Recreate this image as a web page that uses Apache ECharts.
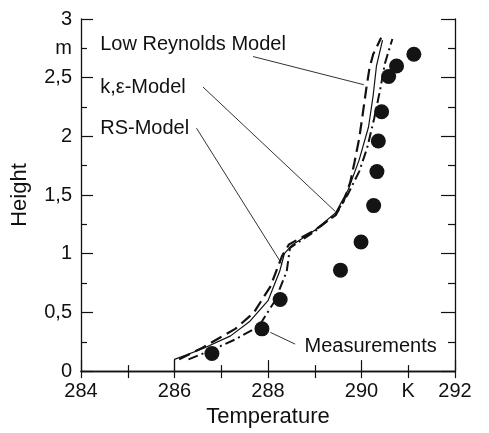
<!DOCTYPE html>
<html>
<head>
<meta charset="utf-8">
<script src="https://cdn.jsdelivr.net/npm/echarts@6/dist/echarts.min.js"></script>
<style>
  html, body { margin: 0; padding: 0; background: #fff; }
  #chart { width: 489px; height: 433px; }
</style>
</head>
<body>
<div id="chart"></div>
<script>
// measured points (temperature K, height m)
const measurements = [
  [286.8, 0.15], [287.87, 0.36], [288.26, 0.61], [289.55, 0.86],
  [289.99, 1.10], [290.26, 1.41], [290.33, 1.70], [290.36, 1.96],
  [290.43, 2.21], [290.58, 2.51], [290.75, 2.60], [291.12, 2.70]
];

const lowReynolds = [
  [286.1, 0.1], [286.6, 0.2], [287.3, 0.36], [287.7, 0.5], [288.05, 0.72],
  [288.3, 0.98], [288.45, 1.08], [289.0, 1.2], [289.45, 1.33], [289.62, 1.45],
  [289.76, 1.61], [289.85, 1.78], [289.95, 1.98], [290.03, 2.2], [290.1, 2.4],
  [290.17, 2.58], [290.25, 2.7], [290.42, 2.84]
];

const kEpsilon = [
  [286.3, 0.1], [286.8, 0.18], [287.3, 0.27], [287.8, 0.38], [288.15, 0.6],
  [288.4, 0.85], [288.47, 1.05], [289.0, 1.19], [289.45, 1.34], [289.7, 1.5],
  [289.95, 1.7], [290.12, 1.9], [290.27, 2.15], [290.4, 2.4], [290.5, 2.62],
  [290.66, 2.83]
];

const rsModel = [
  [286.0, 0.0], [286.0, 0.1], [286.6, 0.19], [287.2, 0.3], [287.6, 0.42],
  [288.0, 0.6], [288.25, 0.85], [288.35, 1.0], [288.5, 1.07], [289.0, 1.2],
  [289.45, 1.35], [289.72, 1.55], [289.95, 1.8], [290.15, 2.08], [290.25, 2.35],
  [290.32, 2.6], [290.45, 2.82]
];

// annotation texts and their leader lines
const labelText = ['Low Reynolds Model', 'k,\u03b5-Model', 'RS-Model', 'Measurements'];
const labelAt = [[284.4, 2.78], [284.4, 2.42], [284.4, 2.07], [288.77, 0.21]];
const pointerFrom = [[287.68, 2.68], [286.61, 2.42], [286.47, 2.07], [288.58, 0.23]];
const pointerTo = [[290.05, 2.44], [289.44, 1.36], [288.30, 0.91], [288.05, 0.33]];

const FONT = '"Liberation Sans", Arial, sans-serif';
const INK = '#111';

const chart = echarts.init(document.getElementById('chart'));

const pointerSeries = pointerFrom.map((p, i) => ({
  type: 'line',
  data: [p, pointerTo[i]],
  showSymbol: false,
  silent: true,
  lineStyle: { color: '#333', width: 1 },
  z: 3
}));

const option = {
  animation: false,
  backgroundColor: '#fff',
  grid: { left: 81, right: 34, top: 19, bottom: 60 },
  xAxis: [
    {
      type: 'value', position: 'bottom', min: 284, max: 292, interval: 2,
      name: 'Temperature', nameLocation: 'middle', nameGap: 30,
      nameTextStyle: { fontFamily: FONT, fontSize: 22, color: INK },
      axisLine: { lineStyle: { color: INK, width: 1.3 } },
      axisTick: { inside: true, length: 11, lineStyle: { color: INK, width: 1.2 } },
      minorTick: { show: true, splitNumber: 2, length: 6, lineStyle: { color: INK, width: 1.2 } },
      axisLabel: { fontFamily: FONT, fontSize: 20, color: INK, margin: 10 },
      splitLine: { show: false }
    },
    {
      type: 'value', position: 'bottom', min: 284, max: 292, interval: 1,
      axisLine: { show: false }, axisTick: { show: false }, splitLine: { show: false },
      axisLabel: {
        fontFamily: FONT, fontSize: 20, color: INK, margin: 10,
        formatter: v => (v === 291 ? 'K' : '')
      }
    },
    {
      type: 'value', position: 'top', min: 284, max: 292, interval: 1,
      axisLine: { lineStyle: { color: INK, width: 1.3 } },
      axisTick: { inside: true, length: 7, lineStyle: { color: INK, width: 1.2 } },
      axisLabel: { show: false }, splitLine: { show: false }
    }
  ],
  yAxis: [
    {
      type: 'value', position: 'left', min: 0, max: 3, interval: 0.5,
      name: 'Height', nameLocation: 'middle', nameGap: 50,
      nameTextStyle: { fontFamily: FONT, fontSize: 22, color: INK },
      axisLine: { lineStyle: { color: INK, width: 1.3 } },
      axisTick: { inside: true, length: 12, lineStyle: { color: INK, width: 1.2 } },
      minorTick: { show: true, splitNumber: 2, length: 6, lineStyle: { color: INK, width: 1.2 } },
      axisLabel: {
        fontFamily: FONT, fontSize: 20, color: INK, margin: 9,
        formatter: v => String(v).replace('.', ',')
      },
      splitLine: { show: false }
    },
    {
      type: 'value', position: 'left', min: 0, max: 3, interval: 0.25,
      axisLine: { show: false }, axisTick: { show: false }, splitLine: { show: false },
      axisLabel: {
        fontFamily: FONT, fontSize: 20, color: INK, margin: 9,
        formatter: v => (v === 2.75 ? 'm' : '')
      }
    },
    {
      type: 'value', position: 'right', min: 0, max: 3, interval: 0.5,
      axisLine: { lineStyle: { color: INK, width: 1.3 } },
      axisTick: { inside: true, length: 14, lineStyle: { color: INK, width: 1.2 } },
      minorTick: { show: true, splitNumber: 2, length: 7, lineStyle: { color: INK, width: 1.2 } },
      axisLabel: { show: false }, splitLine: { show: false }
    }
  ],
  series: [
    {
      name: 'RS-Model', type: 'line', data: rsModel, showSymbol: false,
      lineStyle: { color: '#111', width: 1.2 }, z: 4
    },
    {
      name: 'Low Reynolds Model', type: 'line', data: lowReynolds, showSymbol: false,
      lineStyle: { color: '#111', width: 2.2, type: [12, 6] }, z: 4
    },
    {
      name: 'k,\u03b5-Model', type: 'line', data: kEpsilon, showSymbol: false,
      lineStyle: { color: '#111', width: 2, type: [10, 4, 2, 4] }, z: 4
    },
    {
      name: 'Measurements', type: 'scatter', data: measurements,
      symbolSize: 15, itemStyle: { color: '#141414', opacity: 1 }, z: 5
    },
    ...pointerSeries,
    {
      type: 'scatter', silent: true, symbolSize: 1,
      itemStyle: { color: 'rgba(0,0,0,0)', opacity: 1 },
      data: labelAt.map((p, i) => ({ value: p, name: labelText[i] })),
      label: {
        show: true, position: 'right', distance: 0, opacity: 1,
        fontFamily: FONT, fontSize: 20, color: INK,
        formatter: p => p.name
      },
      z: 6
    }
  ]
};

chart.setOption(option);
window.addEventListener('resize', () => chart.resize());
</script>
</body>
</html>
